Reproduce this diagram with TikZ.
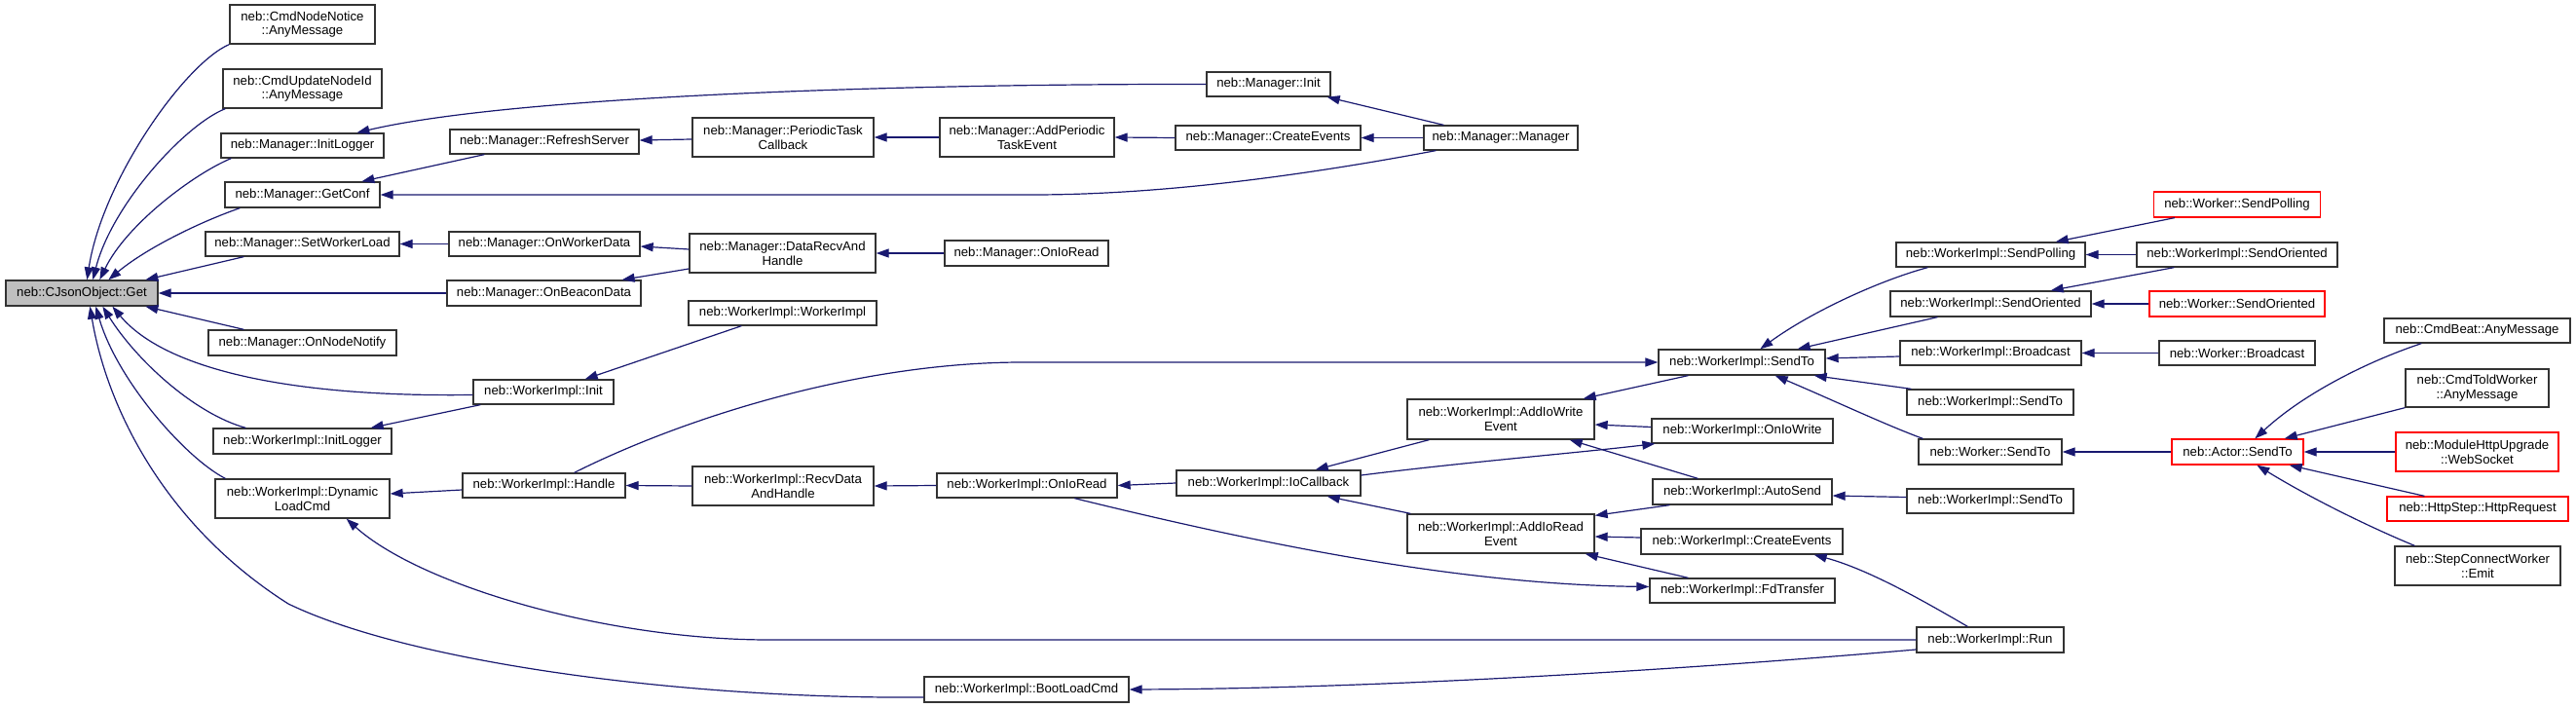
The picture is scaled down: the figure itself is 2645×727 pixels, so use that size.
\documentclass[tikz,border=0pt]{standalone}
\usepackage{fontspec}
\setmainfont{Liberation Sans}
\usetikzlibrary{arrows.meta}
\definecolor{edgec}{HTML}{191970}
\definecolor{boxc}{HTML}{333333}
\definecolor{redc}{HTML}{FF0000}
\definecolor{getfill}{HTML}{BFBFBF}
\begin{document}
\begin{tikzpicture}[x=1pt,y=-1pt,
  nd/.style={draw=boxc, line width=1.3pt, fill=white, inner sep=0pt, align=center,
    font=\fontsize{13.2}{14.7}\selectfont},
  rednd/.style={nd, draw=redc},
  edge/.style={draw=edgec, line width=1.2pt, -{Triangle[length=13pt,width=9pt]}},
]
\fill[white] (0,0) rectangle (2645,727);
\useasboundingbox (0,0) rectangle (2645,727);

% column 1
\node[nd, fill=getfill, minimum width=156pt, minimum height=26pt] (get) at (84,301) {neb::CJsonObject::Get};
% column 2
\node[nd, minimum width=149pt, minimum height=40pt] (cnn) at (310.5,25) {neb::CmdNodeNotice\\::AnyMessage};
\node[nd, minimum width=163pt, minimum height=40pt] (cun) at (310.5,91) {neb::CmdUpdateNodeId\\::AnyMessage};
\node[nd, minimum width=167pt, minimum height=25pt] (mil) at (310.5,149.5) {neb::Manager::InitLogger};
\node[nd, minimum width=159pt, minimum height=26pt] (mgc) at (310.5,200) {neb::Manager::GetConf};
\node[nd, minimum width=199pt, minimum height=25pt] (mswl) at (310.5,250.5) {neb::Manager::SetWorkerLoad};
\node[nd, minimum width=193pt, minimum height=26pt] (mnn) at (310.5,352) {neb::Manager::OnNodeNotify};
\node[nd, minimum width=183pt, minimum height=26pt] (wil) at (310.5,453) {neb::WorkerImpl::InitLogger};
\node[nd, minimum width=179pt, minimum height=40pt] (wdl) at (310.5,512) {neb::WorkerImpl::Dynamic\\LoadCmd};
% column 3
\node[nd, minimum width=194pt, minimum height=25pt] (mrs) at (559,145.5) {neb::Manager::RefreshServer};
\node[nd, minimum width=196pt, minimum height=25pt] (mowd) at (559,250.5) {neb::Manager::OnWorkerData};
\node[nd, minimum width=199pt, minimum height=26pt] (mobd) at (558.5,301) {neb::Manager::OnBeaconData};
\node[nd, minimum width=144pt, minimum height=25pt] (wi) at (558,402.5) {neb::WorkerImpl::Init};
\node[nd, minimum width=167pt, minimum height=25pt] (wh) at (558.5,498.5) {neb::WorkerImpl::Handle};
% column 4
\node[nd, minimum width=186pt, minimum height=40pt] (mptc) at (804,141) {neb::Manager::PeriodicTask\\Callback};
\node[nd, minimum width=191pt, minimum height=40pt] (mdrh) at (803.5,260) {neb::Manager::DataRecvAnd\\Handle};
\node[nd, minimum width=193pt, minimum height=25pt] (wwi) at (803.5,321.5) {neb::WorkerImpl::WorkerImpl};
\node[nd, minimum width=186pt, minimum height=40pt] (wrdh) at (804,499) {neb::WorkerImpl::RecvData\\AndHandle};
% column 5
\node[nd, minimum width=179pt, minimum height=40pt] (mapte) at (1054.5,141) {neb::Manager::AddPeriodic\\TaskEvent};
\node[nd, minimum width=168pt, minimum height=26pt] (moir) at (1054,260) {neb::Manager::OnIoRead};
\node[nd, minimum width=185pt, minimum height=25pt] (woir) at (1054.5,498.5) {neb::WorkerImpl::OnIoRead};
\node[nd, minimum width=210pt, minimum height=26pt] (wblc) at (1054,708) {neb::WorkerImpl::BootLoadCmd};
% column 6
\node[nd, minimum width=127pt, minimum height=25pt] (mi) at (1302.5,86.5) {neb::Manager::Init};
\node[nd, minimum width=190pt, minimum height=25pt] (mce) at (1302,141.5) {neb::Manager::CreateEvents};
\node[nd, minimum width=189pt, minimum height=26pt] (wioc) at (1302.5,496) {neb::WorkerImpl::IoCallback};
% column 7
\node[nd, minimum width=158pt, minimum height=25pt] (mm) at (1541,141.5) {neb::Manager::Manager};
\node[nd, minimum width=192pt, minimum height=41pt] (waiw) at (1541,430.5) {neb::WorkerImpl::AddIoWrite\\Event};
\node[nd, minimum width=192pt, minimum height=40pt] (wair) at (1541,548) {neb::WorkerImpl::AddIoRead\\Event};
% column 8
\node[nd, minimum width=171pt, minimum height=26pt] (wst) at (1788.5,372) {neb::WorkerImpl::SendTo};
\node[nd, minimum width=186pt, minimum height=25pt] (wiow) at (1789,442.5) {neb::WorkerImpl::OnIoWrite};
\node[nd, minimum width=184pt, minimum height=26pt] (was) at (1789,505) {neb::WorkerImpl::AutoSend};
\node[nd, minimum width=207pt, minimum height=26pt] (wce) at (1788.5,556) {neb::WorkerImpl::CreateEvents};
\node[nd, minimum width=190pt, minimum height=25pt] (wfdt) at (1789,606.5) {neb::WorkerImpl::FdTransfer};
% column 9
\node[nd, minimum width=194pt, minimum height=25pt] (wsp) at (2044,261.5) {neb::WorkerImpl::SendPolling};
\node[nd, minimum width=206pt, minimum height=26pt] (wso) at (2044,312) {neb::WorkerImpl::SendOriented};
\node[nd, minimum width=186pt, minimum height=25pt] (wbc) at (2044,362.5) {neb::WorkerImpl::Broadcast};
\node[nd, minimum width=171pt, minimum height=26pt] (wst2) at (2043.5,413) {neb::WorkerImpl::SendTo};
\node[nd, minimum width=147pt, minimum height=26pt] (wkst) at (2043.5,464) {neb::Worker::SendTo};
\node[nd, minimum width=171pt, minimum height=25pt] (wst3) at (2043.5,514.5) {neb::WorkerImpl::SendTo};
\node[nd, minimum width=151pt, minimum height=26pt] (wrun) at (2043.5,657) {neb::WorkerImpl::Run};
% column 10
\node[rednd, minimum width=171pt, minimum height=26pt] (kspoll) at (2297,210) {neb::Worker::SendPolling};
\node[nd, minimum width=206pt, minimum height=25pt] (wso2) at (2297,261.5) {neb::WorkerImpl::SendOriented};
\node[rednd, minimum width=180pt, minimum height=26pt] (ksor) at (2297,312) {neb::Worker::SendOriented};
\node[nd, minimum width=160pt, minimum height=25pt] (kbc) at (2297,362.5) {neb::Worker::Broadcast};
\node[rednd, minimum width=135pt, minimum height=26pt] (asend) at (2297.5,464) {neb::Actor::SendTo};
% column 11
\node[nd, minimum width=191pt, minimum height=25pt] (cbeat) at (2543.5,339.5) {neb::CmdBeat::AnyMessage};
\node[nd, minimum width=147pt, minimum height=39pt] (ctw) at (2543.5,398.5) {neb::CmdToldWorker\\::AnyMessage};
\node[rednd, minimum width=167pt, minimum height=40pt] (mhu) at (2543.5,464) {neb::ModuleHttpUpgrade\\::WebSocket};
\node[rednd, minimum width=186pt, minimum height=25pt] (hsr) at (2544,522.5) {neb::HttpStep::HttpRequest};
\node[nd, minimum width=170pt, minimum height=40pt] (scw) at (2544,581) {neb::StepConnectWorker\\::Emit};

% edges into Get
\draw[edge] (cnn.south west) .. controls (190,65) and (105,185) .. ([xshift=84pt]get.north west);
\draw[edge] ([xshift=3pt]cun.south west) .. controls (190,128) and (115,210) .. ([xshift=90pt]get.north west);
\draw[edge] ([xshift=11pt]mil.south west) .. controls (200,178) and (130,230) .. ([xshift=97pt]get.north west);
\draw[edge] ([xshift=16pt]mgc.south west) .. controls (205,228) and (150,255) .. ([xshift=106pt]get.north west);
\draw[edge] ([xshift=40pt]mswl.south west) -- ([xshift=144pt]get.north west);
\draw[edge] (mobd.west) -- (get.east);
\draw[edge] ([xshift=37pt]mnn.north west) -- ([xshift=144pt]get.south west);
\draw[edge] ([yshift=-3pt]wi.west) .. controls (300,408) and (170,380) .. ([xshift=110pt]get.south west);
\draw[edge] ([xshift=34pt]wil.north west) .. controls (200,425) and (140,370) .. ([xshift=100pt]get.south west);
\draw[edge] ([xshift=11pt]wdl.north west) .. controls (190,470) and (120,390) .. ([xshift=93pt]get.south west);
\draw[edge] ([yshift=-8pt]wblc.west) .. controls (700,718) and (420,680) .. (296,620)
  .. controls (170,540) and (110,420) .. ([xshift=87pt]get.south west);

% Manager side
\draw[edge] (mi.west) .. controls (900,86) and (520,100) .. ([xshift=140pt]mil.north west);
\draw[edge] ([xshift=36pt]mrs.south west) -- ([xshift=141pt]mgc.north west);
\draw[edge] ([xshift=13pt]mm.south west) .. controls (1350,178) and (1200,200) .. (1060,200) -- (mgc.east);
\draw[edge] ([yshift=-2pt]mptc.west) -- ([yshift=1.5pt]mrs.east);
\draw[edge] (mapte.west) -- (mptc.east);
\draw[edge] (mce.west) -- (mapte.east);
\draw[edge] (mm.west) -- (mce.east);
\draw[edge] ([xshift=21pt]mm.north west) -- ([xshift=-4pt]mi.south east);
\draw[edge] (mowd.west) -- (mswl.east);
\draw[edge] ([yshift=4pt]mdrh.west) -- ([yshift=-2.5pt]mowd.east);
\draw[edge] ([yshift=-16pt]mdrh.west) -- ([xshift=-20pt]mobd.north east);
\draw[edge] (moir.west) -- (mdrh.east);

% WorkerImpl side
\draw[edge] ([xshift=55pt]wwi.south west) -- ([xshift=-30pt]wi.north east);
\draw[edge] ([xshift=8pt]wi.south west) -- ([xshift=-22pt]wil.north east);
\draw[edge] ([yshift=-4.5pt]wh.west) -- ([yshift=5pt]wdl.east);
\draw[edge] (wrdh.west) -- (wh.east);
\draw[edge] (woir.west) -- (wrdh.east);
\draw[edge] (wioc.west) -- (woir.east);
\draw[edge] ([xshift=142pt]woir.south west) .. controls (1300,560) and (1500,600) .. ([yshift=4pt]wfdt.west);
\draw[edge] ([xshift=-53pt]wh.north east) .. controls (700,430) and (880,372) .. (1050,372) -- (wst.west);
\draw[edge] (wrun.west) -- (790,657) .. controls (620,657) and (430,600) .. ([xshift=-45pt]wdl.south east);
\draw[edge] ([yshift=-10pt]wrun.west) .. controls (1700,690) and (1400,707) .. (wblc.east);
\draw[edge] ([xshift=23pt]waiw.south west) -- ([xshift=-47pt]wioc.north east);
\draw[edge] ([yshift=8pt]wioc.east) .. controls (1500,475) and (1620,465) .. ([xshift=4pt]wiow.south west);
\draw[edge] ([xshift=4pt]wair.north west) -- ([xshift=-35pt]wioc.south east);
\draw[edge] ([xshift=31pt]wst.south west) -- ([xshift=-12pt]waiw.north east);
\draw[edge] ([yshift=4pt]wiow.west) -- ([yshift=-5.5pt]waiw.east);
\draw[edge] ([xshift=47pt]was.north west) -- ([xshift=-26pt]waiw.south east);
\draw[edge] ([xshift=18pt]was.south west) -- ([yshift=-2pt]wair.north east);
\draw[edge] ([yshift=4pt]wce.west) -- ([yshift=-3pt]wair.east);
\draw[edge] ([xshift=40pt]wfdt.north west) -- ([xshift=-10pt]wair.south east);
\draw[edge] ([xshift=53pt]wrun.north west) .. controls (1980,620) and (1920,585) .. ([xshift=-30pt]wce.south east);

% SendTo side
\draw[edge] ([xshift=33pt]wsp.south west) .. controls (1930,288) and (1860,320) .. ([xshift=105pt]wst.north west);
\draw[edge] ([xshift=49pt]wso.south west) -- ([xshift=-29pt]wst.north east);
\draw[edge] ([yshift=-3.5pt]wbc.west) -- ([yshift=4pt]wst.east);
\draw[edge] ([xshift=5pt]wst2.north west) -- ([xshift=-12pt]wst.south east);
\draw[edge] ([xshift=5pt]wkst.north west) .. controls (1940,438) and (1880,410) .. ([xshift=-52pt]wst.south east);
\draw[edge] ([yshift=4pt]wst3.west) -- ([yshift=-4pt]was.east);
\draw[edge] ([xshift=22pt]kspoll.south west) -- ([xshift=-31pt]wsp.north east);
\draw[edge] (wso2.west) -- (wsp.east);
\draw[edge] ([xshift=39pt]wso2.south west) -- ([xshift=-42pt]wso.north east);
\draw[edge] (ksor.west) -- (wso.east);
\draw[edge] (kbc.west) -- (wbc.east);
\draw[edge] (asend.west) -- (wkst.east);
\draw[edge] ([xshift=39pt]cbeat.south west) .. controls (2440,368) and (2370,400) .. ([xshift=86pt]asend.north west);
\draw[edge] (ctw.south west) -- ([xshift=-20pt]asend.north east);
\draw[edge] (mhu.west) -- (asend.east);
\draw[edge] ([xshift=39pt]hsr.north west) -- ([xshift=-15pt]asend.south east);
\draw[edge] ([xshift=21pt]scw.north west) .. controls (2430,540) and (2370,510) .. ([xshift=88pt]asend.south west);
\end{tikzpicture}
\end{document}
